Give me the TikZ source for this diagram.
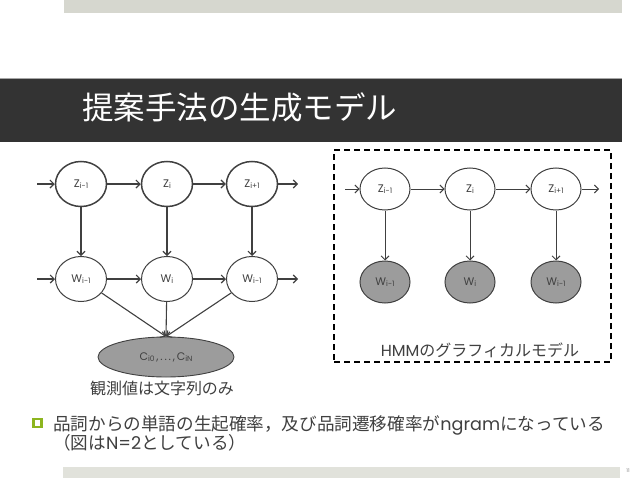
\documentclass[tikz,border=0pt]{standalone}
\usepackage{fontspec}
\setmainfont{Poppins}
\newfontfamily\cjk{Noto Sans CJK JP}
\usetikzlibrary{arrows.meta,shapes.geometric}
\definecolor{txt}{HTML}{404040}
\definecolor{titlebg}{HTML}{333333}
\definecolor{topbar}{HTML}{D6D7CF}
\definecolor{botbar}{HTML}{E1E2DB}
\definecolor{nodegray}{HTML}{9C9C9C}
\definecolor{bulletgreen}{HTML}{8DB51F}
\newcommand\sbs[1]{\raisebox{-1.5pt}{\fontsize{7.5}{8}\selectfont #1}}
\tikzset{
  zbold/.style={ellipse,draw=txt,line width=1.5pt,minimum width=51pt,minimum height=45pt,inner sep=0pt,text=txt,font=\fontsize{11}{12}\selectfont},
  wthin/.style={ellipse,draw=txt,line width=1pt,minimum width=51pt,minimum height=45pt,inner sep=0pt,text=txt,font=\fontsize{11}{12}\selectfont},
  zr/.style={ellipse,draw=txt,line width=1pt,minimum width=50pt,minimum height=42pt,inner sep=0pt,text=txt,font=\fontsize{11}{12}\selectfont},
  wr/.style={zr,fill=nodegray},
  arr/.style={draw=txt,line width=1.1pt,-{Straight Barb[length=4pt,width=8pt]}},
  arrthin/.style={draw=txt,line width=0.9pt,-{Straight Barb[length=4pt,width=8pt]}},
  jp/.style={text=txt,font=\cjk\fontsize{16}{18}\selectfont,inner sep=0pt},
}
\begin{document}
\begin{tikzpicture}[x=1pt,y=-1pt]
\useasboundingbox (0,0) rectangle (638,479);
\fill[white] (0,0) rectangle (638,479);
% bars
\fill[topbar] (64,0) rectangle (622,13);
\fill[titlebg] (0,78) rectangle (622,142);
\draw[gray!70,line width=0.8pt] (0,78.4) -- (622,78.4);
\node[anchor=west,text=white,font=\cjk\fontsize{31.5}{34}\selectfont,inner sep=0pt] (title) at (82,107) {提案手法の生成モデル};
\fill[botbar] (63,467) rectangle (620,478);
\node[text=gray,font=\fontsize{5}{6}\selectfont,inner sep=0pt] (pg) at (628,471) {11};

% left graph
\node[zbold] (z1) at (81,184) {Z\sbs{i-1}};
\node[zbold] (z2) at (167,184) {Z\sbs{i}};
\node[zbold] (z3) at (252,184) {Z\sbs{i+1}};
\node[wthin] (w1) at (81,279) {W\sbs{i-1}};
\node[wthin] (w2) at (167,279) {W\sbs{i}};
\node[wthin] (w3) at (252,279) {W\sbs{i-1}};
\coordinate (zin) at (37,184);
\coordinate (zout) at (298,184);
\coordinate (win) at (37,279);
\coordinate (wout) at (298,279);
\node[ellipse,draw=txt,line width=0.9pt,fill=nodegray,minimum width=136pt,minimum height=40pt,inner sep=0pt,text=txt,font=\fontsize{11}{12}\selectfont] (c) at (166,357) {C\sbs{i0}\,,\,.\,.\,.\,,\,C\sbs{iN}};
\node[jp] (obs) at (162,388) {観測値は文字列のみ};

\draw[arr] (zin) -- (z1);
\draw[arr] (z1) -- (z2);
\draw[arr] (z2) -- (z3);
\draw[arr] (z3) -- (zout);
\draw[arr] (win) -- (w1);
\draw[arr] (w1) -- (w2);
\draw[arr] (w2) -- (w3);
\draw[arr] (w3) -- (wout);
\draw[arr] (z1) -- (w1);
\draw[arr] (z2) -- (w2);
\draw[arr] (z3) -- (w3);
\draw[arr] (w1) -- (c.north);
\draw[arr] (w2) -- (c.north);
\draw[arr] (w3) -- (c.north);

% right graph
\node[draw=black,line width=1.5pt,dash pattern=on 6pt off 4pt,minimum width=277pt,minimum height=212pt,inner sep=0pt] (box) at (472.5,256) {};
\node[zr] (rz1) at (385,189) {Z\sbs{i-1}};
\node[zr] (rz2) at (470,189) {Z\sbs{i}};
\node[zr] (rz3) at (556,189) {Z\sbs{i+1}};
\node[wr] (rw1) at (385,282) {W\sbs{i-1}};
\node[wr] (rw2) at (470,282) {W\sbs{i}};
\node[wr] (rw3) at (556,282) {W\sbs{i-1}};
\coordinate (rin) at (345,189);
\coordinate (rout) at (599,189);
\draw[arrthin] (rin) -- (rz1);
\draw[arrthin] (rz1) -- (rz2);
\draw[arrthin] (rz2) -- (rz3);
\draw[arrthin] (rz3) -- (rout);
\draw[arrthin] (rz1) -- (rw1);
\draw[arrthin] (rz2) -- (rw2);
\draw[arrthin] (rz3) -- (rw3);
\node[jp,font=\fontsize{16}{18}\selectfont] (hmm) at (480,350) {HMM{\cjk のグラフィカルモデル}};

% bullet
\node[draw=bulletgreen,line width=2.6pt,minimum size=8pt,inner sep=0pt] (bul) at (37.5,423) {};
\node[anchor=west,text=txt,inner sep=0pt,font=\fontsize{17.6}{20}\selectfont] (l1) at (53,425) {{\cjk 品詞からの単語の生起確率，及び品詞遷移確率が}ngram{\cjk になっている}};
\node[anchor=west,text=txt,inner sep=0pt,font=\fontsize{17.6}{20}\selectfont] (l2) at (53,443) {{\cjk （図は}N=2{\cjk としている）}};
\end{tikzpicture}
\end{document}
